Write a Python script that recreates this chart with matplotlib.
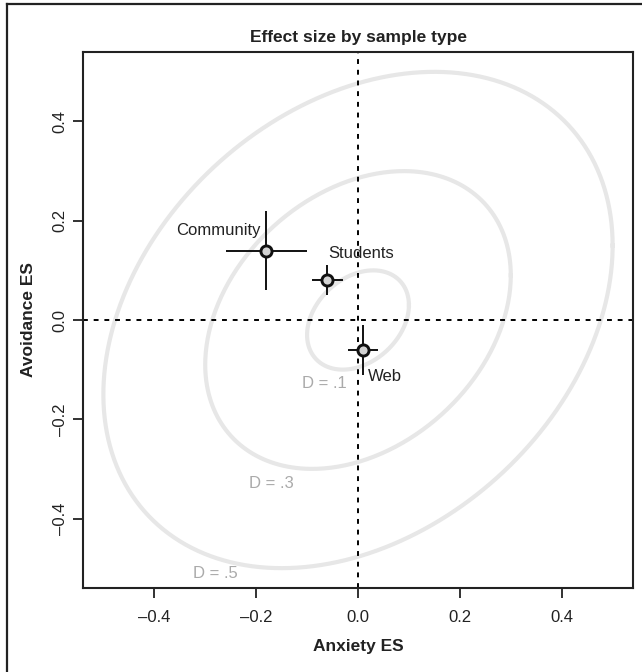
import numpy as np
import matplotlib
matplotlib.use('Agg')
import matplotlib.pyplot as plt
from matplotlib.lines import Line2D

plt.rcParams['font.family'] = ['Liberation Sans', 'DejaVu Sans']

# sample type effect sizes (anxiety, avoidance) with error half-widths
SAMPLES = ['Community', 'Students', 'Web']
ANX = [-0.18, -0.06, 0.01]
AVO = [0.14, 0.08, -0.06]
ANX_ERR = [0.08, 0.03, 0.03]
AVO_ERR = [0.08, 0.03, 0.05]

# distance contours
D_LEVELS = [0.1, 0.3, 0.5]
D_LABELS = ['D = .1', 'D = .3', 'D = .5']
D_LABEL_X = [-0.067, -0.17, -0.28]
D_LABEL_Y = [-0.127, -0.33, -0.51]
CORR = 0.3

XTICKS = [-0.4, -0.2, 0.0, 0.2, 0.4]
YTICKS = [-0.4, -0.2, 0.0, 0.2, 0.4]
TICK_LABELS = ['\u20130.4', '\u20130.2', '0.0', '0.2', '0.4']

fig = plt.figure(figsize=(6.42, 6.72), dpi=100)
ax = fig.add_axes([83 / 642, 1 - 588 / 672, (633 - 83) / 642, (588 - 52) / 672])

# partial frame around the figure (left + top only)
fig.add_artist(Line2D([7 / 642, 7 / 642], [0, 1 - 3.5 / 672], transform=fig.transFigure,
                      color='#222222', lw=1.6))
fig.add_artist(Line2D([7 / 642, 1], [1 - 3.5 / 672, 1 - 3.5 / 672], transform=fig.transFigure,
                      color='#222222', lw=1.6))

# Mahalanobis ellipses for unit variances and correlation CORR
t = np.linspace(0, 2 * np.pi, 400)
cov = np.array([[1.0, CORR], [CORR, 1.0]])
L = np.linalg.cholesky(cov)
circ = np.vstack([np.cos(t), np.sin(t)])
for d in D_LEVELS:
    e = d * (L @ circ)
    ax.plot(e[0], e[1], color='#e7e7e7', lw=3, zorder=1)
for lx, ly, lab in zip(D_LABEL_X, D_LABEL_Y, D_LABELS):
    ax.text(lx, ly, lab, color='#aaaaaa', fontsize=12, ha='center', va='center', zorder=2)

ax.axhline(0, color='black', ls=(0, (2.5, 3)), lw=1.4, zorder=2)
ax.axvline(0, color='black', ls=(0, (2.5, 3)), lw=1.4, zorder=2)

ax.errorbar(ANX, AVO, xerr=ANX_ERR, yerr=AVO_ERR, fmt='none', ecolor='#111111',
            elinewidth=1.4, capsize=0, zorder=3)
ax.plot(ANX, AVO, 'o', ms=8, mfc='#d3d3d3', mec='#111111', mew=2.1, zorder=4)

ax.text(ANX[0] - 0.012, AVO[0] + 0.04, SAMPLES[0], ha='right', va='center', fontsize=12, color='#222222')
ax.text(ANX[1] + 0.067, AVO[1] + 0.055, SAMPLES[1], ha='center', va='center', fontsize=12, color='#222222')
ax.text(ANX[2] + 0.01, AVO[2] - 0.053, SAMPLES[2], ha='left', va='center', fontsize=12, color='#222222')

ax.set_xlim(-0.54, 0.54)
ax.set_ylim(-0.54, 0.54)
ax.set_xticks(XTICKS)
ax.set_yticks(YTICKS)
ax.set_xticklabels(TICK_LABELS)
ax.set_yticklabels(TICK_LABELS, rotation=90, va='center')
ax.tick_params(direction='out', length=7, width=1.3, labelsize=12, colors='#222222')
ax.tick_params(axis='x', pad=9)
ax.tick_params(axis='y', pad=4)
for s in ax.spines.values():
    s.set_linewidth(1.5)
    s.set_color('#222222')

ax.set_xlabel('Anxiety ES', fontsize=12.5, fontweight='bold', color='#222222', labelpad=10)
ax.set_ylabel('Avoidance ES', fontsize=12.5, fontweight='bold', color='#222222', labelpad=12)
ax.set_title('Effect size by sample type', fontsize=12.5, fontweight='bold', color='#222222', pad=7)

fig.savefig('out.png', dpi=100)
